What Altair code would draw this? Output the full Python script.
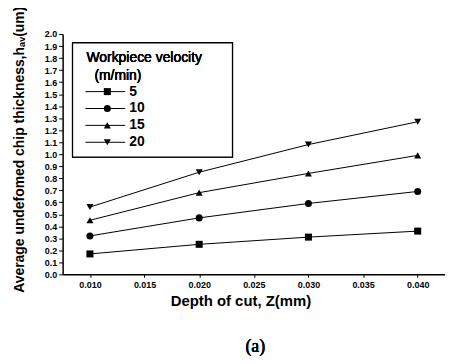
import altair as alt
import pandas as pd

# ---- data ----
depth = [0.010, 0.020, 0.030, 0.040]
velocities = ["5", "10", "15", "20"]
h_v5 = [0.17, 0.25, 0.31, 0.36]
h_v10 = [0.32, 0.47, 0.59, 0.69]
h_v15 = [0.45, 0.68, 0.84, 0.99]
h_v20 = [0.56, 0.85, 1.08, 1.27]
shapes = ["square", "circle", "triangle-up", "triangle-down"]
x_ticks = [0.010, 0.015, 0.020, 0.025, 0.030, 0.035, 0.040]
y_ticks = [0.0, 0.1, 0.2, 0.3, 0.4, 0.5, 0.6, 0.7, 0.8, 0.9, 1.0,
           1.1, 1.2, 1.3, 1.4, 1.5, 1.6, 1.7, 1.8, 1.9, 2.0]

series = [h_v5, h_v10, h_v15, h_v20]
rows = []
for v, vals in zip(velocities, series):
    for d, h in zip(depth, vals):
        rows.append({"depth": d, "h": h, "vel": v})
df = pd.DataFrame(rows)
legend_df = pd.DataFrame({"vel": velocities, "row": list(range(len(velocities)))})

FONT = "Liberation Sans"

xenc = alt.X("depth:Q",
             scale=alt.Scale(domain=[0.0075, 0.0425], nice=False, zero=False),
             axis=alt.Axis(values=x_ticks, format=".3f", title="Depth of cut, Z(mm)",
                           titleFontSize=15, titleFontWeight="bold", titleX=179, titleY=26,
                           titleBaseline="middle", titleAnchor="start", titleAlign="center",
                           labelPadding=3, tickSize=3))
yscale = alt.Scale(domain=[0, 2], nice=False, zero=True)
yaxis = alt.Axis(values=y_ticks, format=".1f",
                 title="Average undefomed chip thickness,hₐᵥ(um)",
                 titleFontSize=14, titleFontWeight="bold", titleX=-43, titleY=116,
                 titleAngle=-90, titleAlign="center", titleBaseline="middle",
                 titleAnchor="start", labelPadding=2, tickSize=4)
shape_scale = alt.Scale(domain=velocities, range=shapes)

lines = alt.Chart(df).mark_line(color="black", strokeWidth=1).encode(
    x=xenc,
    y=alt.Y("h:Q", scale=yscale, axis=yaxis),
    detail="vel:N",
)
points = alt.Chart(df).mark_point(filled=True, color="black", opacity=1, size=50).encode(
    x="depth:Q",
    y=alt.Y("h:Q", scale=yscale, axis=yaxis),
    shape=alt.Shape("vel:N", scale=shape_scale, legend=None),
)
main = alt.layer(lines, points)

# ---- hand-made legend box ----
box = alt.Chart(legend_df).mark_rect(fill="white", stroke="black", strokeWidth=1.2).encode(
    x=alt.value(10), x2=alt.value(171), y=alt.value(9), y2=alt.value(124))
t1 = alt.Chart(legend_df).mark_text(align="left", baseline="middle", fontSize=14,
                                    fontWeight="normal", font=FONT, color="black").encode(
    x=alt.value(24), y=alt.value(24), text=alt.value("Workpiece velocity"))
t2 = alt.Chart(legend_df).mark_text(align="left", baseline="middle", fontSize=14,
                                    fontWeight="normal", font=FONT, color="black").encode(
    x=alt.value(32), y=alt.value(42), text=alt.value("(m/min)"))
ly = alt.Y("row:Q", scale=alt.Scale(domain=[0, 3], range=[58, 109]), axis=None)
lrule = alt.Chart(legend_df).mark_rule(color="black", strokeWidth=1).encode(
    x=alt.value(23), x2=alt.value(63), y=ly)
lpt = alt.Chart(legend_df).mark_point(filled=True, color="black", opacity=1, size=50).encode(
    x=alt.value(45), y=ly, shape=alt.Shape("vel:N", scale=shape_scale, legend=None))
ltxt = alt.Chart(legend_df).mark_text(align="left", baseline="middle", fontSize=14,
                                      fontWeight="bold", font=FONT, color="black").encode(
    x=alt.value(67), y=ly, text="vel:N")
legend = alt.layer(box, t1, t2, lrule, lpt, ltxt)

caption = alt.Chart(legend_df).mark_text(fontSize=18, font="Liberation Serif",
                                         fontWeight="normal", color="black").encode(
    x=alt.value(194), y=alt.value(315), text=alt.value("(a)"))

chart = alt.layer(main, legend, caption).resolve_scale(y="independent").properties(
    width=385, height=242,
    autosize=alt.AutoSizeParams(type="none"),
    padding={"left": 55, "top": 25, "right": 0, "bottom": 81},
).configure_view(stroke=None).configure_axis(
    grid=False, domainColor="black", domainWidth=1.5, tickColor="black", tickWidth=1,
    labelFont=FONT, labelFontWeight="bold", labelFontSize=9, labelColor="black",
    titleFont=FONT, titleColor="black",
)

chart.save("out.html", embed_options={"renderer": "svg", "actions": False})
